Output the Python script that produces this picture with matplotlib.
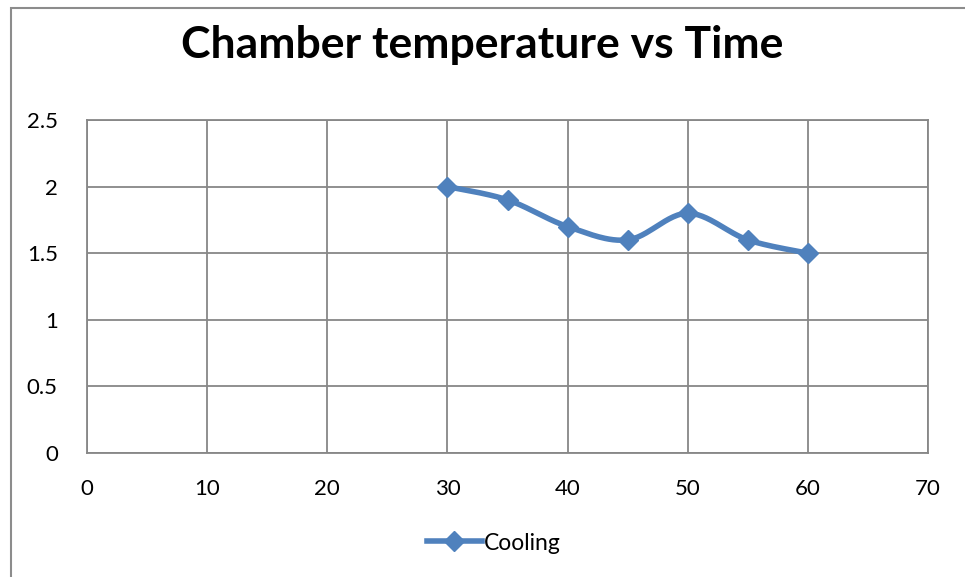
import numpy as np
import matplotlib.pyplot as plt
from matplotlib.patches import Rectangle
from matplotlib.lines import Line2D

plt.rcParams['font.family'] = ['Lato', 'DejaVu Sans']

time = [30, 35, 40, 45, 50, 55, 60]
temp = [2, 1.9, 1.7, 1.6, 1.8, 1.6, 1.5]
xticks = [0, 10, 20, 30, 40, 50, 60, 70]
yticks = [0, 0.5, 1, 1.5, 2, 2.5]
ytick_labels = ['0', '0.5', '1', '1.5', '2', '2.5']
blue = '#4F81BD'


def smooth(x, y, n=30):
    # catmull-rom style smoothing, like excel's smoothed line
    x = np.asarray(x, float)
    y = np.asarray(y, float)
    px = np.concatenate([[x[0]], x, [x[-1]]])
    py = np.concatenate([[y[0]], y, [y[-1]]])
    xs, ys = [], []
    for i in range(1, len(px) - 2):
        t = np.linspace(0, 1, n)
        for p, out in ((px, xs), (py, ys)):
            p0, p1, p2, p3 = p[i - 1], p[i], p[i + 1], p[i + 2]
            m1 = (p2 - p0) / 2
            m2 = (p3 - p1) / 2
            h00 = 2 * t**3 - 3 * t**2 + 1
            h10 = t**3 - 2 * t**2 + t
            h01 = -2 * t**3 + 3 * t**2
            h11 = t**3 - t**2
            out.extend(h00 * p1 + h10 * m1 + h01 * p2 + h11 * m2)
    return np.array(xs), np.array(ys)


fig = plt.figure(figsize=(9.65, 5.77), dpi=100)
fig.patches.append(Rectangle((11 / 965, -0.1), 1.1, 1 - 8 / 577 + 0.1,
                             transform=fig.transFigure, fill=False,
                             edgecolor='#8c8c8c', linewidth=1.5))

ax = fig.add_axes([87 / 965, 1 - 453 / 577, (928 - 87) / 965, (453 - 120) / 577])
ax.set_xlim(0, 70)
ax.set_ylim(0, 2.5)
ax.set_xticks(xticks)
ax.set_yticks(yticks)
ax.set_yticklabels(ytick_labels)
ax.grid(True, color='#878787', linewidth=1.3)
ax.set_axisbelow(True)
for s in ax.spines.values():
    s.set_color('#878787')
    s.set_linewidth(1.3)
ax.tick_params(length=0, labelsize=16)
ax.tick_params(axis='x', pad=19)
ax.tick_params(axis='y', pad=21)

sx, sy = smooth(time, temp)
ax.plot(sx, sy, color=blue, linewidth=4, solid_capstyle='round')
ax.plot(time, temp, linestyle='none', marker='D', markersize=10, color=blue)

fig.text(482 / 965, 1 - 45 / 577, 'Chamber temperature vs Time', ha='center', va='center',
         fontsize=32, fontweight='bold')

handle = Line2D([], [], color=blue, linewidth=4, marker='D', markersize=10)
fig.legend([handle], ['Cooling'], loc='center', bbox_to_anchor=(494 / 965, 1 - 543 / 577),
           frameon=False, fontsize=16.5, handlelength=2.4, handletextpad=0.1)

fig.savefig('out.png', dpi=100)
